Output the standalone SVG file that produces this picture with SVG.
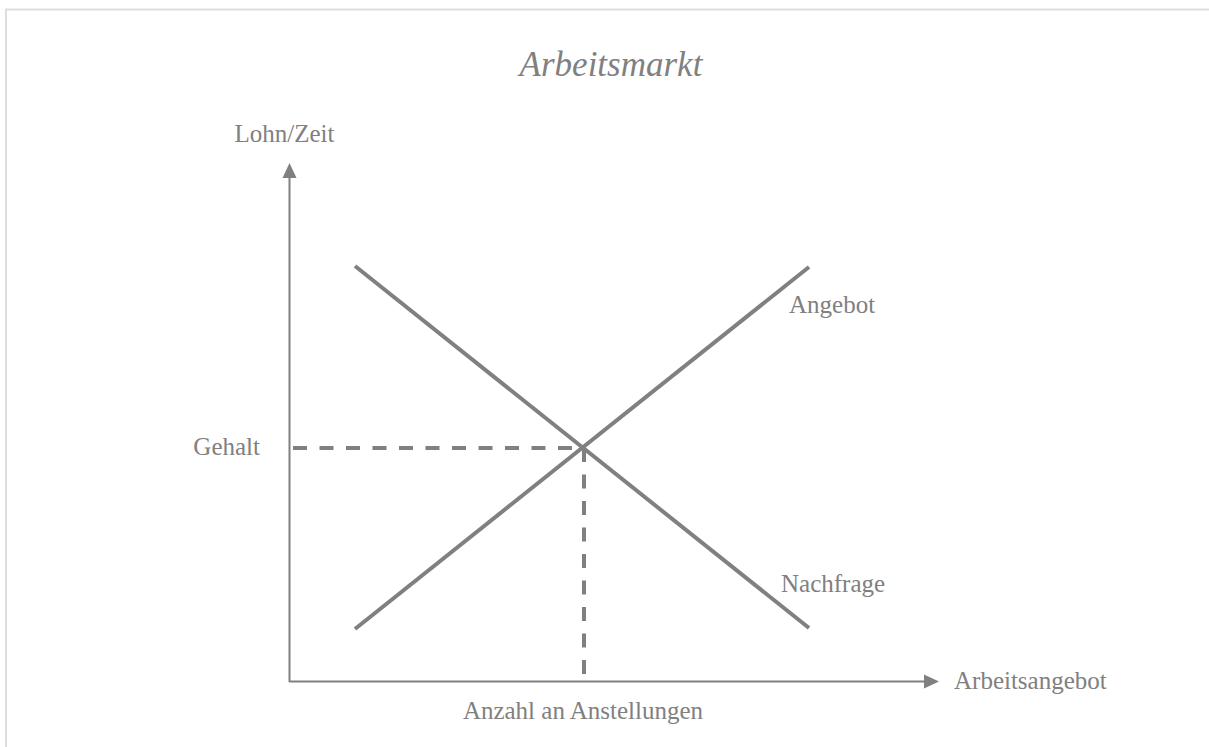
<svg xmlns="http://www.w3.org/2000/svg" width="1209" height="747" viewBox="0 0 1209 747">
<style>
.t{font-family:"Liberation Serif","Times New Roman",serif;fill:#808080;font-size:25px}
.title{font-style:italic;font-size:35px}
.axis{stroke:#808080;stroke-width:2;fill:none}
.curve{stroke:#808080;stroke-width:4;fill:none}
.dash{stroke:#808080;stroke-width:4;fill:none;stroke-dasharray:14 12.5}
.head{fill:#808080}
</style>
<rect x="6" y="9.5" width="1220" height="760" fill="#fff" stroke="#dddddd" stroke-width="2"/>
<g id="title"><text class="t title" x="611" y="76" text-anchor="middle">Arbeitsmarkt</text></g>
<g id="connectors">
<line class="axis" x1="289.5" y1="682" x2="289.5" y2="176"/>
<polygon class="head" points="289.5,163 282.5,178 296.5,178"/>
<line class="axis" x1="289" y1="681.5" x2="926" y2="681.5"/>
<polygon class="head" points="939,681.5 924,674.5 924,688.5"/>
<line class="dash" x1="293" y1="448" x2="583" y2="448"/>
<line class="dash" x1="584" y1="448" x2="584" y2="682"/>
</g>
<g id="nachfrage"><line class="curve" x1="355" y1="266" x2="809" y2="628"/><text class="t" x="781" y="592">Nachfrage</text></g>
<g id="angebot"><line class="curve" x1="355" y1="629" x2="809" y2="267"/><text class="t" x="789" y="313">Angebot</text></g>
<g id="labels">
<text class="t" x="284.5" y="142" text-anchor="middle">Lohn/Zeit</text>
<text class="t" x="260" y="455" text-anchor="end">Gehalt</text>
<text class="t" x="954" y="689">Arbeitsangebot</text>
<text class="t" x="583" y="719" text-anchor="middle">Anzahl an Anstellungen</text>
</g>
</svg>
